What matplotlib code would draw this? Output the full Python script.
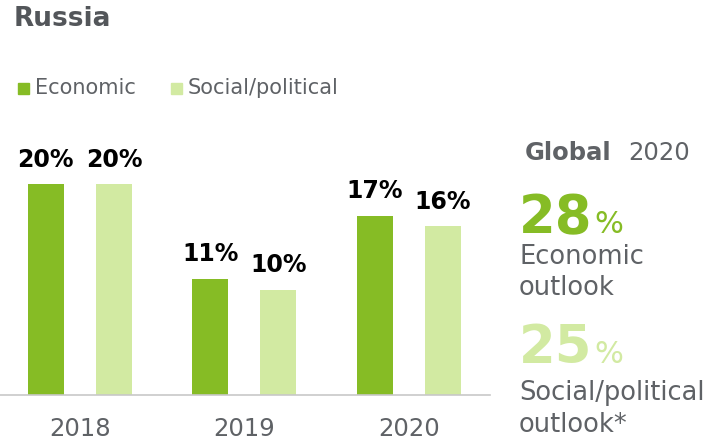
import matplotlib
matplotlib.use('Agg')
import matplotlib.pyplot as plt
import numpy as np

# data
years = ['2018', '2019', '2020']
economic = [20, 11, 17]
social = [20, 10, 16]
series_names = ['Economic', 'Social/political']
global_year = '2020'
global_economic = 28
global_social = 25

dark_green = '#86bc25'
light_green = '#d2eaa2'
grey_text = '#5f6266'
title_grey = '#53565a'

fig = plt.figure(figsize=(7.17, 4.43), dpi=100)
W, H = 717, 443

def fx(px):
    return px / W

def fy(py):
    return 1 - py / H

# bar axes: baseline at y=395px, spans x 0..490px
ax = fig.add_axes([0, fy(395), fx(490), fy(140) - fy(395)])
x = np.arange(len(years))
off = 0.207
w = 0.219
ax.bar(x - off, economic, w, color=dark_green)
ax.bar(x + off, social, w, color=light_green)
for i in range(len(years)):
    ax.text(x[i] - off, economic[i] + 1.2, f'{economic[i]}%', ha='center', va='bottom',
            fontsize=17, fontweight='bold', color='black')
    ax.text(x[i] + off, social[i] + 1.2, f'{social[i]}%', ha='center', va='bottom',
            fontsize=17, fontweight='bold', color='black')
ax.set_xlim(-0.486, 2.495)
ax.set_ylim(0, 24.2)
ax.set_yticks([])
ax.set_xticks(x)
ax.set_xticklabels(years, fontsize=17.5, color=grey_text)
ax.tick_params(axis='x', length=0, pad=16)
for s in ['top', 'right', 'left']:
    ax.spines[s].set_visible(False)
ax.spines['bottom'].set_color('#c8c8c8')
ax.spines['bottom'].set_linewidth(1.2)
ax.patch.set_alpha(0)

# title
fig.text(fx(14), fy(19), 'Russia', fontsize=19, fontweight='bold', color=title_grey,
         ha='left', va='center')

# legend
for px, name, col in [(18, series_names[0], dark_green), (171, series_names[1], light_green)]:
    fig.patches.append(plt.Rectangle((fx(px), fy(94)), fx(11), fy(83) - fy(94),
                                     transform=fig.transFigure, color=col))
    fig.text(fx(px + 17), fy(88), name, fontsize=15, color=grey_text, ha='left', va='center')

# global panel
fig.text(fx(525), fy(153), 'Global', fontsize=17.5, fontweight='bold', color=grey_text,
         ha='left', va='center')
fig.text(fx(628), fy(153), global_year, fontsize=17.5, color=grey_text, ha='left', va='center')

fig.text(fx(519), fy(233), str(global_economic), fontsize=38, fontweight='bold', color=dark_green,
         ha='left', va='baseline')
fig.text(fx(594), fy(233), '%', fontsize=22, color=dark_green, ha='left', va='baseline')
fig.text(fx(519), fy(257), 'Economic', fontsize=18.5, color=grey_text, ha='left', va='center')
fig.text(fx(519), fy(288), 'outlook', fontsize=18.5, color=grey_text, ha='left', va='center')

fig.text(fx(519), fy(363), str(global_social), fontsize=38, fontweight='bold', color=light_green,
         ha='left', va='baseline')
fig.text(fx(594), fy(363), '%', fontsize=22, color=light_green, ha='left', va='baseline')
fig.text(fx(519), fy(393), 'Social/political', fontsize=18.5, color=grey_text, ha='left', va='center')
fig.text(fx(519), fy(425), 'outlook*', fontsize=18.5, color=grey_text, ha='left', va='center')

fig.savefig('out.png', dpi=100)
